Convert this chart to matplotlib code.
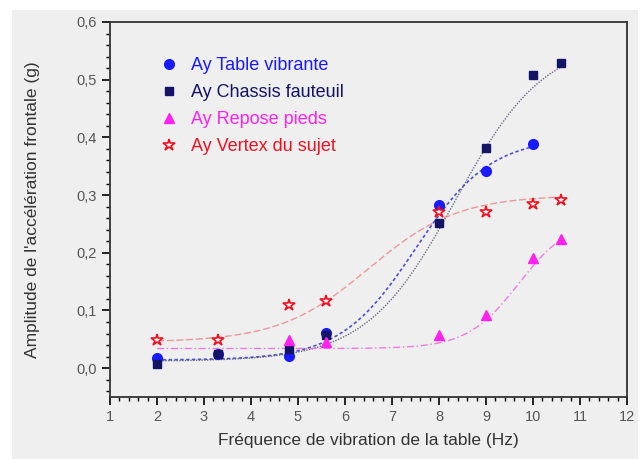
import numpy as np
import matplotlib
matplotlib.use("Agg")
import matplotlib.pyplot as plt
from matplotlib.patches import Rectangle
from matplotlib.ticker import MultipleLocator, FuncFormatter

plt.rcParams['font.family'] = ['Liberation Sans', 'DejaVu Sans']

# measured amplitudes (g) per table frequency (Hz)
freq_table = [2, 3.3, 4.8, 5.6, 8, 9, 10]
ay_table = [0.017, 0.024, 0.021, 0.061, 0.283, 0.342, 0.389]

freq_chassis = [2, 3.3, 4.8, 5.6, 8, 9, 10, 10.6]
ay_chassis = [0.008, 0.024, 0.034, 0.058, 0.252, 0.382, 0.508, 0.529]

freq_pieds = [4.8, 5.6, 8, 9, 10, 10.6]
ay_pieds = [0.049, 0.046, 0.058, 0.092, 0.191, 0.223]

freq_vertex = [2, 3.3, 4.8, 5.6, 8, 9, 10, 10.6]
ay_vertex = [0.049, 0.049, 0.110, 0.116, 0.271, 0.271, 0.285, 0.291]

# Boltzmann fit parameters (A1, A2, x0, dx) and fitted range
fit_table = (0.014, 0.40, 7.5, 0.8, 2, 10)
fit_chassis = (0.012, 0.57, 8.35, 0.95, 2, 10.6)
fit_pieds = (0.034, 0.26, 9.7, 0.55, 2, 10.6)
fit_vertex = (0.045, 0.30, 6.5, 0.95, 2, 10.6)


def boltzmann(p):
    a1, a2, x0, dx, xa, xb = p
    x = np.linspace(xa, xb, 200)
    return x, a2 + (a1 - a2) / (1 + np.exp((x - x0) / dx))


bg = '#efefef'
fig = plt.figure(figsize=(6.43, 4.59), dpi=100, facecolor='white')
fig.patches.append(Rectangle((12 / 643, 0), 626 / 643, 449 / 459,
                             transform=fig.transFigure, facecolor=bg,
                             edgecolor='none', zorder=-10))
ax = fig.add_axes([110 / 643, 1 - 397 / 459, 517 / 643, 375 / 459])
ax.set_facecolor(bg)

c_table = '#1a1aff'
c_chassis = '#141466'
c_pieds = '#ff22ee'
c_vertex = '#ee1122'

x, y = boltzmann(fit_table)
ax.plot(x, y, ls=(0, (2, 1.5)), color='#3333cc', lw=1.2, alpha=0.85)
x, y = boltzmann(fit_chassis)
ax.plot(x, y, ls=(0, (1, 1)), color='#555577', lw=1.0, alpha=0.85)
x, y = boltzmann(fit_pieds)
ax.plot(x, y, ls=(0, (5, 2, 1, 2)), color='#ee66dd', lw=1.0, alpha=0.85)
x, y = boltzmann(fit_vertex)
ax.plot(x, y, ls=(0, (5, 2)), color='#ee8888', lw=1.0, alpha=0.85)

ax.plot(freq_table, ay_table, 'o', color=c_table, ms=7, ls='none',
        label='Ay Table vibrante')
ax.plot(freq_chassis, ay_chassis, 's', color=c_chassis, ms=6, ls='none',
        label='Ay Chassis fauteuil')
ax.plot(freq_pieds, ay_pieds, '^', color=c_pieds, ms=7, ls='none',
        label='Ay Repose pieds')
ax.plot(freq_vertex, ay_vertex, '*', mfc='white', mec=c_vertex, mew=1.2,
        ms=9, ls='none', label='Ay Vertex du sujet')

ax.set_xlim(1, 12)
ax.set_ylim(-0.05, 0.6)
ax.xaxis.set_major_locator(MultipleLocator(1))
ax.xaxis.set_minor_locator(MultipleLocator(0.2))
ax.yaxis.set_major_locator(MultipleLocator(0.1))
ax.yaxis.set_minor_locator(MultipleLocator(0.02))
ax.yaxis.set_major_formatter(FuncFormatter(lambda v, _: f"{v:.1f}".replace('.', ',').replace('-0,0', '0,0')))
ax.tick_params(which='major', direction='out', length=6, width=1.2,
               labelsize=10.5, labelcolor='#555555', top=False, right=False)
ax.tick_params(which='minor', direction='out', length=3, width=1.0,
               top=False, right=False)
for s in ax.spines.values():
    s.set_linewidth(1.3)
    s.set_color('#333333')

ax.set_xlabel("Fréquence de vibration de la table (Hz)", fontsize=12.5,
              color='#333333', labelpad=6)
ax.set_ylabel("Amplitude de l'accélération frontale (g)", fontsize=12.5,
              color='#333333', labelpad=26)

leg = ax.legend(loc='upper left', bbox_to_anchor=(0.08, 0.93), frameon=False,
                fontsize=13, handletextpad=0.7, labelspacing=0.55,
                handlelength=1.0, borderpad=0)
for t, c in zip(leg.get_texts(), [c_table, c_chassis, c_pieds, c_vertex]):
    t.set_color(c)

fig.savefig('out.png', dpi=100, facecolor=fig.get_facecolor())
